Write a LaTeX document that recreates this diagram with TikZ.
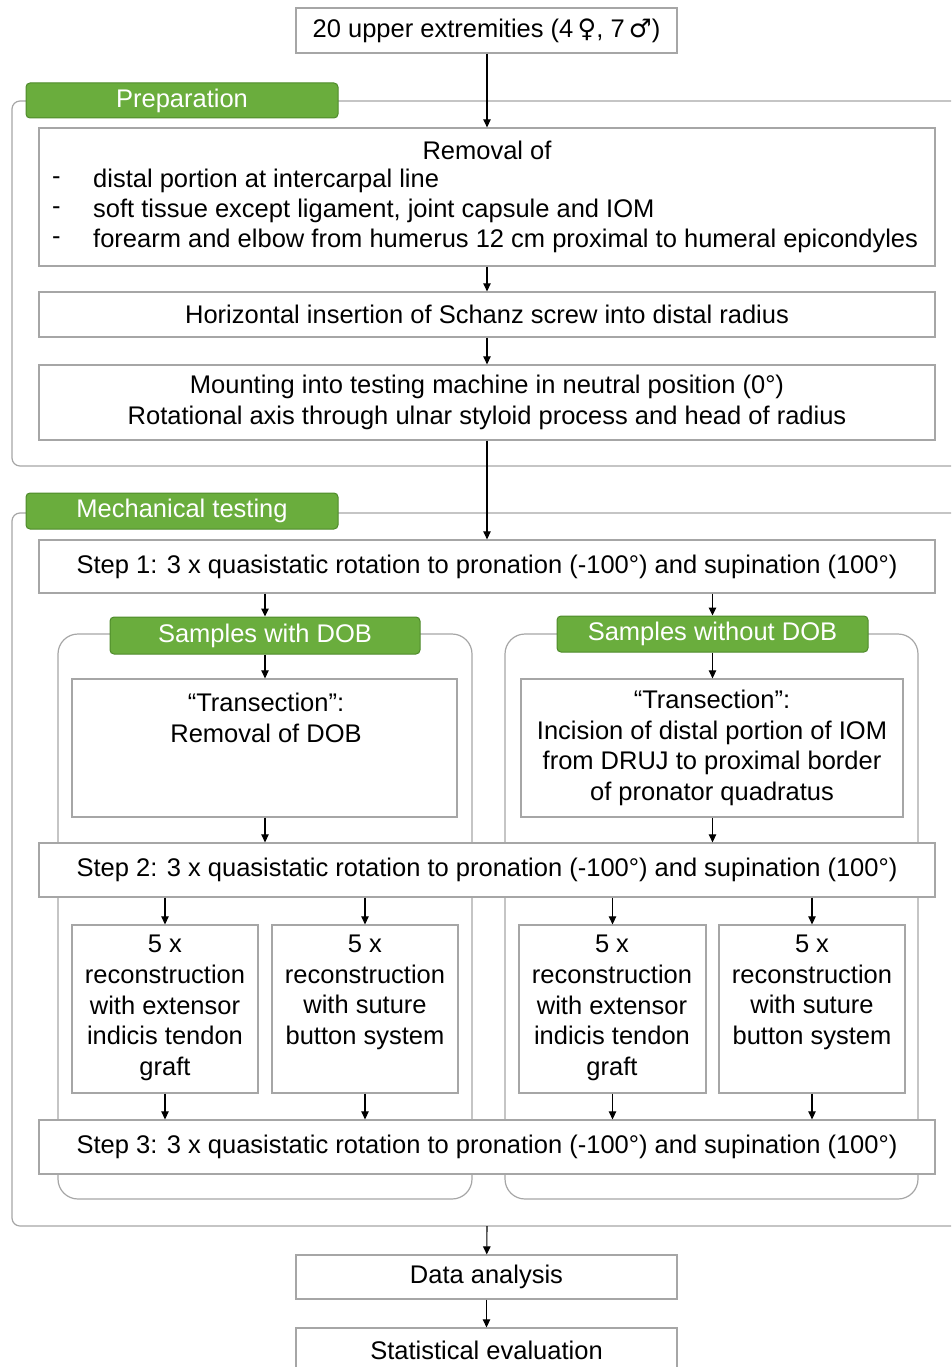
\documentclass[tikz,border=0pt]{standalone}
\usepackage{fontspec}
\setmainfont{Liberation Sans}
\newfontfamily\symf{DejaVu Sans}
\usetikzlibrary{arrows.meta}
\definecolor{grn}{HTML}{6AAD3D}
\definecolor{grnd}{HTML}{4E8A2A}
\definecolor{gry}{HTML}{A6A6A6}
\begin{document}
\begin{tikzpicture}[x=1pt,y=-1pt,
  box/.style={draw=gry,line width=1.3pt,fill=white,inner sep=0pt,minimum width=#1},
  lab/.style={draw=grnd,line width=1pt,fill=grn,rounded corners=4pt,text=white,inner sep=0pt,minimum width=#1,font=\fsz},
  grp/.style={draw=gry,line width=1.2pt,rounded corners=#1},
  txt/.style={inner sep=0pt,font=\fsz,align=center},
  arr/.style={-{Triangle[length=8pt,width=7.5pt]},line width=1.1pt,black}]
\newcommand\fsz{\fontsize{25.5}{30.7}\selectfont}
\useasboundingbox (0,0) rectangle (951,1367);
\clip (0,0) rectangle (951,1367);
% group frames
\draw[grp=8pt] (960,101) -- (12,101) -- (12,466) -- (960,466);
\draw[grp=8pt] (960,513) -- (12,513) -- (12,1226) -- (960,1226);
\draw[grp=20pt] (58,634) rectangle (472,1199);
\draw[grp=20pt] (505,634) rectangle (918,1199);
% labels
\node[lab=312pt,minimum height=35pt] (lprep) at (182,100.5) {Preparation};
\node[lab=312pt,minimum height=36pt] (lmech) at (182,511) {Mechanical testing};
\node[lab=310pt,minimum height=37pt] (lwith) at (265,635.5) {Samples with DOB};
\node[lab=311pt,minimum height=36pt] (lwout) at (712.5,634) {Samples without DOB};
% boxes
\node[box=381pt,minimum height=45pt,txt] (top) at (486.5,30.5) {20 upper extremities (4\,{\symf ♀}, 7\,{\symf ♂})};
\node[box=896pt,minimum height=138pt] (rem) at (487,197) {};
\node[txt] (remt) at (487,150) {Removal of};
\node[txt,anchor=west] (d1) at (52,181) {-};
\node[txt,anchor=west] (d2) at (52,211) {-};
\node[txt,anchor=west] (d3) at (52,241) {-};
\node[txt,anchor=west] (r1) at (93,181) {distal portion at intercarpal line};
\node[txt,anchor=west] (r2) at (93,211) {soft tissue except ligament, joint capsule and IOM};
\node[txt,anchor=west] (r3) at (93,241) {forearm and elbow from humerus 12 cm proximal to humeral epicondyles};
\node[box=896pt,minimum height=45pt,txt] (hor) at (487,314.5) {Horizontal insertion of Schanz screw into distal radius};
\node[box=896pt,minimum height=75pt,txt] (mount) at (487,402.5) {Mounting into testing machine in neutral position (0°)\\Rotational axis through ulnar styloid process and head of radius};
\node[box=896pt,minimum height=53pt,txt] (s1) at (487,566.5) {Step 1: 3 x quasistatic rotation to pronation (-100°) and supination (100°)};
\node[box=385pt,minimum height=138pt] (trl) at (264.5,748) {};
\node[txt] (trlt) at (266,718) {“Transection”:\\Removal of DOB};
\node[box=382pt,minimum height=138pt] (trr) at (712,748) {};
\node[txt] (trrt) at (712,748) {“Transection”:\\Incision of distal portion of IOM\\from DRUJ to proximal border\\of pronator quadratus};
\node[box=896pt,minimum height=54pt,txt] (s2) at (487,870) {Step 2: 3 x quasistatic rotation to pronation (-100°) and supination (100°)};
\node[box=186pt,minimum height=168pt] (b1) at (165,1009) {};
\node[box=186pt,minimum height=168pt] (b2) at (365,1009) {};
\node[box=187pt,minimum height=168pt] (b3) at (612.5,1009) {};
\node[box=186pt,minimum height=168pt] (b4) at (812,1009) {};
\node[txt] (b1t) at (165,1008) {5 x\\reconstruction\\with extensor\\indicis tendon\\graft};
\node[txt] (b2t) at (365,992.5) {5 x\\reconstruction\\with suture\\button system};
\node[txt] (b3t) at (612,1008) {5 x\\reconstruction\\with extensor\\indicis tendon\\graft};
\node[txt] (b4t) at (812,992.5) {5 x\\reconstruction\\with suture\\button system};
\node[box=896pt,minimum height=54pt,txt] (s3) at (487,1147) {Step 3: 3 x quasistatic rotation to pronation (-100°) and supination (100°)};
\node[box=381pt,minimum height=44pt,txt] (data) at (486.5,1277) {Data analysis};
\node[box=381pt,minimum height=44pt,txt] (stat) at (486.5,1350) {Statistical evaluation};
\coordinate (gbot) at (487,1226);
% arrows
\draw[arr] (top.south -| rem.north) -- (rem.north);
\draw[arr] (rem) -- (hor);
\draw[arr] (hor) -- (mount);
\draw[arr] (mount) -- (s1);
\draw[arr] (s1.south -| lwith) -- (lwith.north);
\draw[arr] (s1.south -| lwout) -- (lwout.north);
\draw[arr] (lwith.south) -- (lwith.south |- trl.north);
\draw[arr] (lwout.south) -- (lwout.south |- trr.north);
\draw[arr] (trl.south -| lwith) -- (s2.north -| lwith);
\draw[arr] (trr.south -| lwout) -- (s2.north -| lwout);
\foreach \b in {b1,b2,b3,b4}{
  \draw[arr] (s2.south -| \b) -- (\b.north);
  \draw[arr] (\b.south) -- (s3.north -| \b);
}
\draw[arr] (gbot) -- (data);
\draw[arr] (data) -- (stat);
\end{tikzpicture}
\end{document}
